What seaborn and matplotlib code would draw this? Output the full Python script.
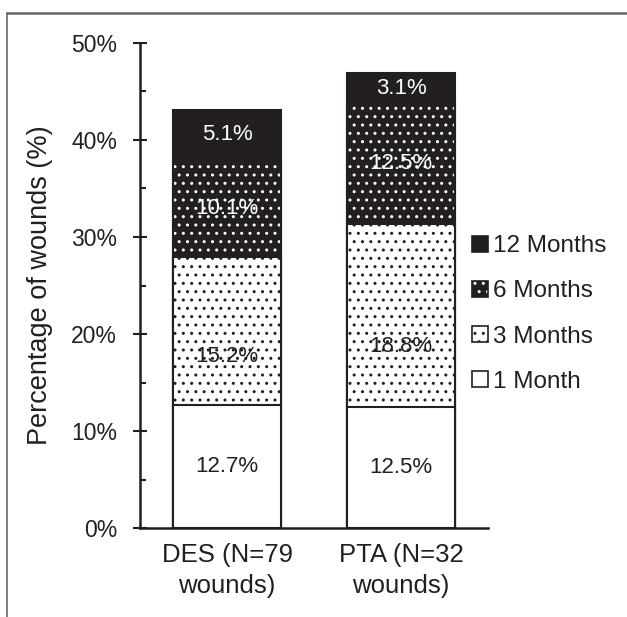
import matplotlib
matplotlib.use("Agg")
import matplotlib.pyplot as plt
import seaborn as sns
import pandas as pd
from matplotlib.patches import Patch
from matplotlib.lines import Line2D
from matplotlib.ticker import MultipleLocator, PercentFormatter
from matplotlib.colors import to_rgba

# ---- data ----
groups = ["DES (N=79\nwounds)", "PTA (N=32\nwounds)"]
series = ["1 Month", "3 Months", "6 Months", "12 Months"]
one_month = [12.7, 12.5]
three_months = [15.2, 18.8]
six_months = [10.1, 12.5]
twelve_months = [5.1, 3.1]
y_ticks = [0, 10, 20, 30, 40, 50]

values = {"1 Month": one_month, "3 Months": three_months,
          "6 Months": six_months, "12 Months": twelve_months}

DARK = "#231f20"
styles = {
    "1 Month":   dict(face="white", hatch=None, hcolor=DARK, text=DARK, frac=0.5),
    "3 Months":  dict(face="white", hatch="..", hcolor=DARK, text=DARK, frac=0.33),
    "6 Months":  dict(face=DARK, hatch="..", hcolor="white", text="white", frac=0.5),
    "12 Months": dict(face=DARK, hatch=None, hcolor=DARK, text="white", frac=0.5),
}

sns.set_theme(style="white")
plt.rcParams['font.family'] = ['Liberation Sans', 'DejaVu Sans']
plt.rcParams['hatch.linewidth'] = 1.0

fig = plt.figure(figsize=(6.27, 6.17), dpi=100)
ax = fig.add_axes([140 / 627, 89 / 617, 348 / 627, 485 / 617])

# cumulative tops
cum = {}
running = [0.0] * len(groups)
bottoms = {}
for s in series:
    bottoms[s] = list(running)
    running = [r + v for r, v in zip(running, values[s])]
    cum[s] = list(running)

# draw from the tallest stack down so lower segments overlay
for s in reversed(series):
    st = styles[s]
    df = pd.DataFrame({"group": groups, "top": cum[s]})
    n0 = len(ax.patches)
    sns.barplot(data=df, x="group", y="top", color=st["face"], edgecolor=DARK,
                linewidth=1.5, hatch=st["hatch"], saturation=1, width=0.626,
                errorbar=None, ax=ax, order=groups)
    for p in ax.patches[n0:]:
        p.set_facecolor(st["face"])
        p.set_edgecolor(DARK)
        if st["hatch"]:
            if hasattr(p, "set_hatchcolor"):
                p.set_hatchcolor(st["hcolor"])
            else:
                p._hatch_color = to_rgba(st["hcolor"])

# value labels
for s in series:
    st = styles[s]
    for i, v in enumerate(values[s]):
        y = bottoms[s][i] + v * st["frac"]
        ax.text(i, y, f"{v:.1f}%", ha="center", va="center", fontsize=16,
                color=st["text"])

ax.set_xlim(-0.5, 1.5)
ax.set_ylim(0, 50)
ax.set_yticks(y_ticks)
ax.yaxis.set_minor_locator(MultipleLocator(5))
ax.yaxis.set_major_formatter(PercentFormatter(decimals=0))
ax.tick_params(axis="y", which="major", left=True, direction="inout",
               length=10, width=1.5, color=DARK, labelsize=16.5, pad=11.5,
               labelcolor=DARK)
ax.tick_params(axis="y", which="minor", left=True, direction="in",
               length=4.5, width=1.5, color=DARK)
ax.tick_params(axis="x", length=0, pad=11, labelsize=18.5, labelcolor=DARK)
for t in ax.get_xticklabels():
    t.set_linespacing(1.35)
ax.set_xlabel("")
ax.set_ylabel("Percentage of wounds (%)", fontsize=19.5, color=DARK)
ax.yaxis.set_label_coords(-0.25, 0.5)

for side in ["top", "right"]:
    ax.spines[side].set_visible(False)
for side in ["left", "bottom"]:
    ax.spines[side].set_color(DARK)
    ax.spines[side].set_linewidth(1.8)
ax.set_facecolor("none")

# legend
handles = []
for s in reversed(series):
    st = styles[s]
    if s == "6 Months":
        h1 = Patch(facecolor=DARK, edgecolor="white", hatch="..", linewidth=0)
        h2 = Patch(facecolor="none", edgecolor=DARK, linewidth=1.2)
        handles.append((h1, h2))
    else:
        handles.append(Patch(facecolor=st["face"], edgecolor=DARK,
                             hatch=st["hatch"], linewidth=1.2))
labels = list(reversed(series))
leg = fig.legend(handles, labels, loc="center left",
                 bbox_to_anchor=(472 / 627, 1 - 314 / 617),
                 frameon=False, fontsize=17.5, borderpad=0, borderaxespad=0,
                 handlelength=0.65, handleheight=0.65, handletextpad=0.2,
                 labelspacing=0.95)
for t in leg.get_texts():
    t.set_color(DARK)

# figure border (top and left)
fx = 7 / 627
fy = 1 - 13 / 617
fig.add_artist(Line2D([fx, 1], [fy, fy], transform=fig.transFigure,
                      color="#666666", linewidth=1.8))
fig.add_artist(Line2D([fx, fx], [0, fy], transform=fig.transFigure,
                      color="#666666", linewidth=1.2))

fig.savefig("out.png", dpi=100)
